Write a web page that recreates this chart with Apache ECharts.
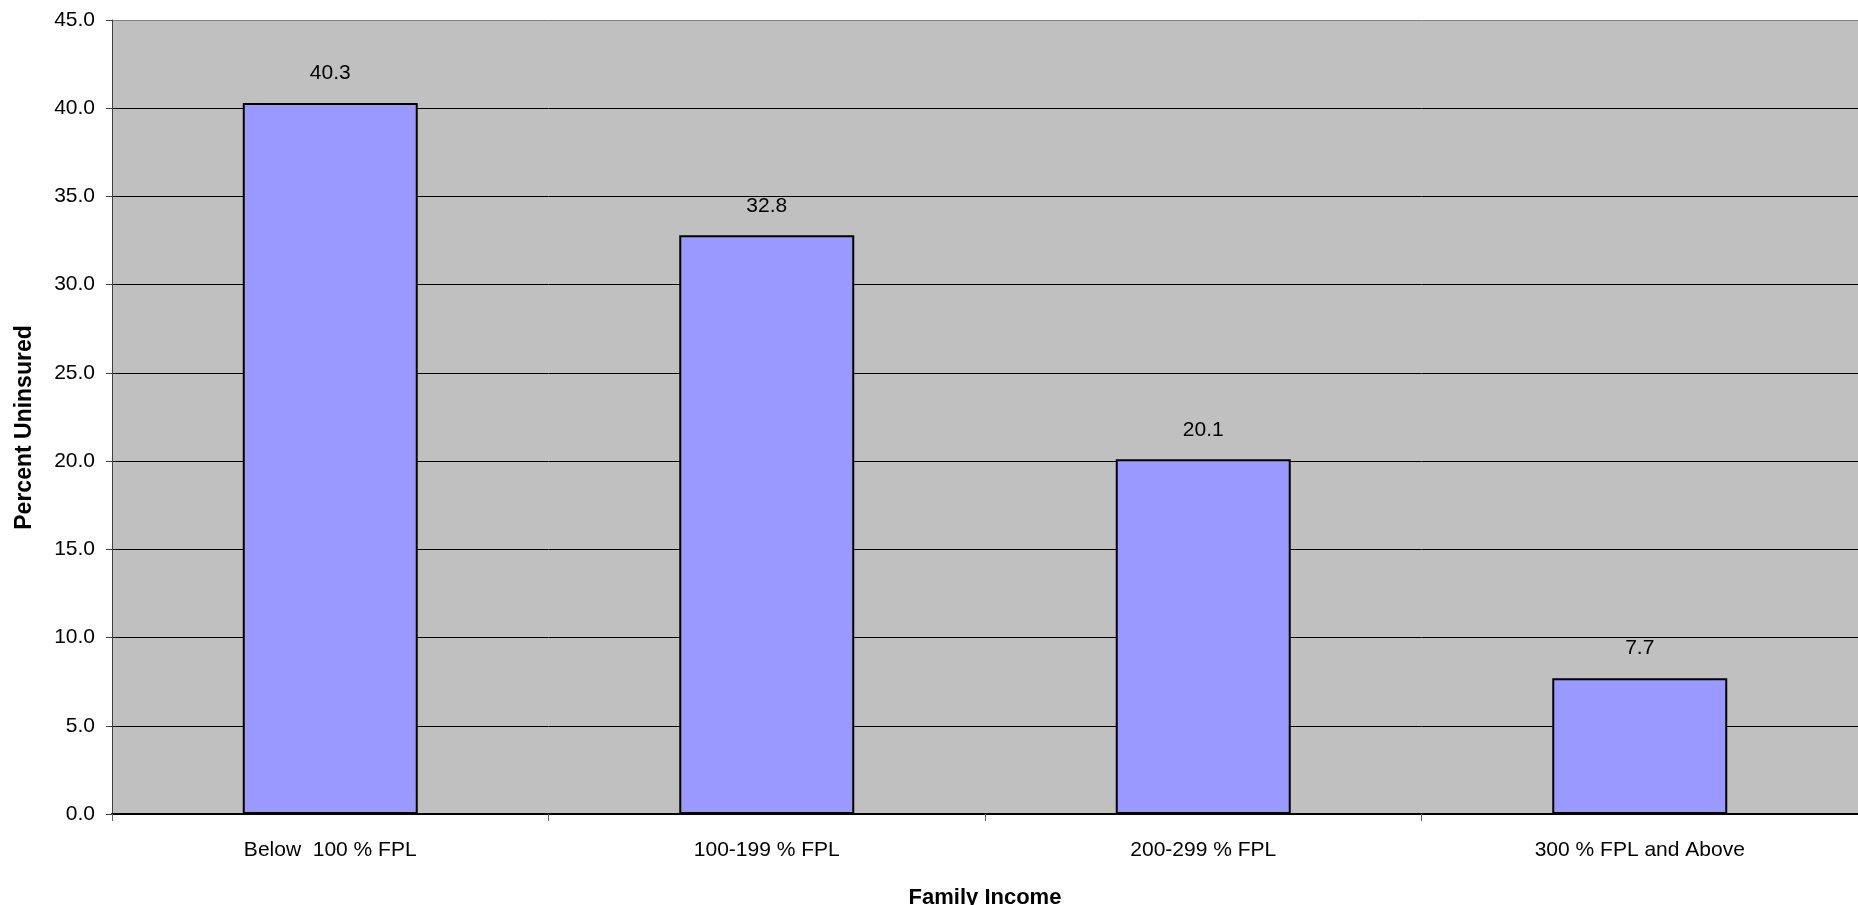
<!DOCTYPE html>
<html>
<head>
<meta charset="utf-8">
<script src="https://cdn.jsdelivr.net/npm/echarts@6/dist/echarts.min.js"></script>
<style>
  html, body { margin: 0; padding: 0; background: #ffffff; }
  #chart { width: 1858px; height: 905px; }
</style>
</head>
<body>
<div id="chart"></div>
<script>
// Income groups and the share of people without insurance in each
const categories = ['Below  100 % FPL', '100-199 % FPL', '200-299 % FPL', '300 % FPL and Above'];
const percentUninsured = [40.3, 32.8, 20.1, 7.7];
const yTickMin = 0;
const yTickMax = 45;
const yTickStep = 5;

const font = 'Arial, "Liberation Sans", sans-serif';

// grid lines: black, except the top edge which is drawn lighter
const splitColors = [];
for (let v = yTickMin; v <= yTickMax; v += yTickStep) {
  splitColors.push(v === yTickMax ? '#808080' : '#000000');
}

const chart = echarts.init(document.getElementById('chart'), null, { renderer: 'canvas' });
chart.setOption({
  animation: false,
  backgroundColor: '#ffffff',
  grid: {
    left: 112, top: 20, right: 0, bottom: 91,
    outerBoundsMode: 'none',
    containLabel: false,
    show: true, backgroundColor: '#C0C0C0', borderWidth: 0
  },
  xAxis: {
    type: 'category',
    data: categories,
    name: 'Family Income',
    nameLocation: 'middle',
    nameGap: 73,
    nameTextStyle: { fontFamily: font, fontSize: 22, fontWeight: 'bold', color: '#000' },
    axisLine: { lineStyle: { color: '#000', width: 2 } },
    axisTick: { show: true, length: 7, alignWithLabel: false, lineStyle: { color: '#606060', width: 1 } },
    axisLabel: { fontFamily: font, fontSize: 21, color: '#000', margin: 26 },
    splitLine: { show: false }
  },
  yAxis: {
    type: 'value',
    min: yTickMin, max: yTickMax, interval: yTickStep,
    name: 'Percent Uninsured',
    nameLocation: 'middle',
    nameGap: 76,
    nameRotate: 90,
    nameTextStyle: {
      fontFamily: font, fontSize: 23, fontWeight: 'bold', color: '#000',
      padding: [0, 21, 0, 0]
    },
    axisLine: { show: true, lineStyle: { color: '#404040', width: 1 } },
    axisTick: { show: true, length: 6, lineStyle: { color: '#404040', width: 1 } },
    axisLabel: {
      fontFamily: font, fontSize: 21, color: '#000', margin: 17,
      formatter: v => v.toFixed(1)
    },
    splitLine: { show: true, lineStyle: { color: splitColors, width: 1 } }
  },
  series: [{
    type: 'bar',
    data: percentUninsured,
    barWidth: 175,
    itemStyle: { color: '#9999FF', borderColor: '#000', borderWidth: 2 },
    label: {
      show: true, position: 'top', distance: 19,
      fontFamily: font, fontSize: 21, color: '#000',
      formatter: p => p.value.toFixed(1)
    }
  }]
});
</script>
</body>
</html>
